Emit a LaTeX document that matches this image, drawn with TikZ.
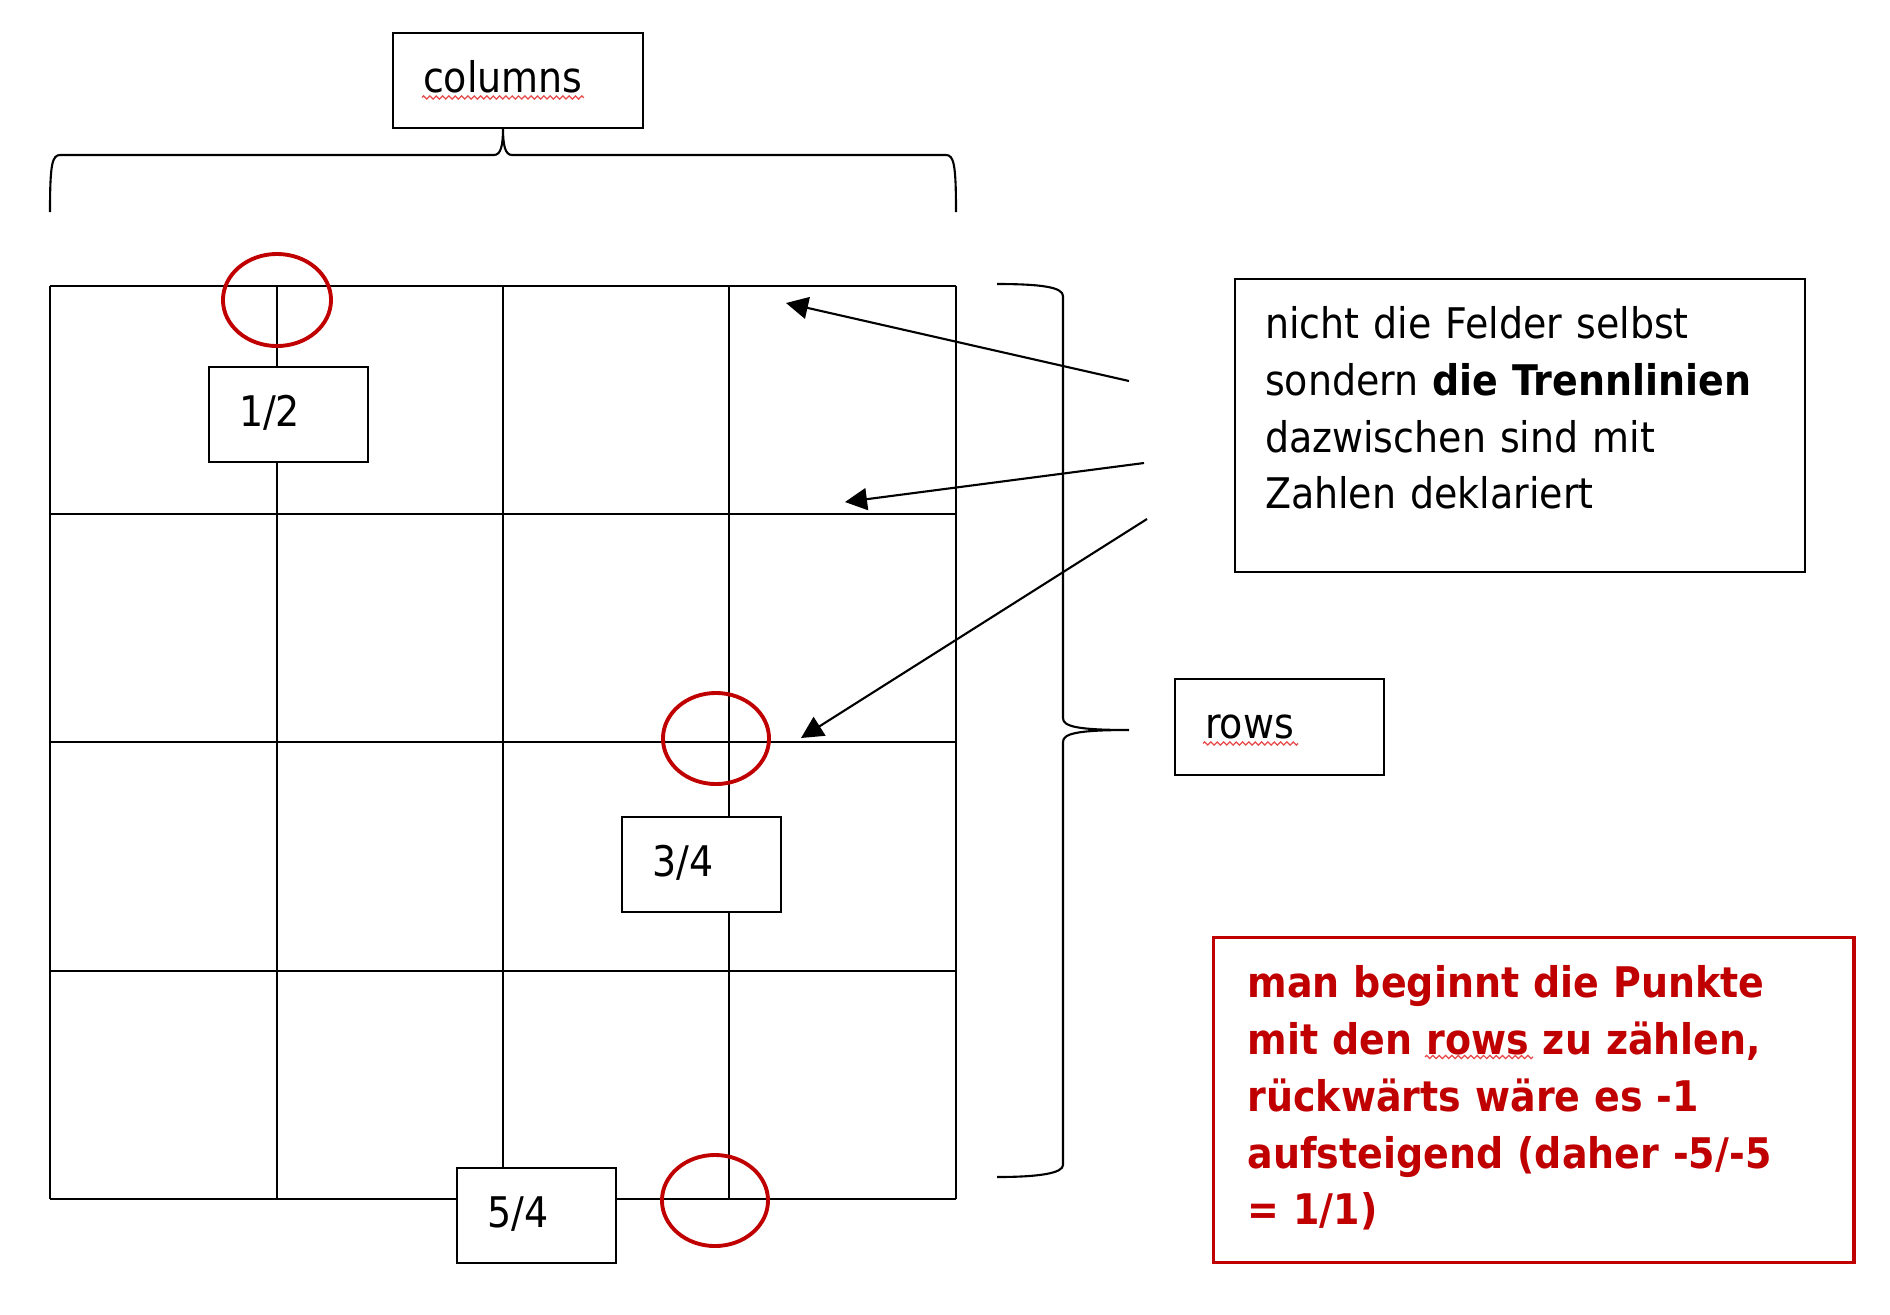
\documentclass[tikz,border=0pt]{standalone}
\usepackage{fontspec}
\setmainfont{DejaVu Sans Condensed}
\usetikzlibrary{arrows.meta,decorations.pathmorphing}
\definecolor{markred}{RGB}{192,0,0}
\definecolor{spellred}{RGB}{232,72,72}
\begin{document}
\begin{tikzpicture}[
  x=0.01cm, y=0.01cm,
  line width=0.6pt,
  every node/.style={font=\fontsize{12pt}{16.15pt}\selectfont},
  frame/.style={draw, fill=white, anchor=north west, align=left,
    inner xsep=0.3cm, inner ysep=0pt, text height=16.9pt},
  numbox/.style={frame, text width=0.99cm, text depth=10.2pt},
  ring/.style={draw=markred, line width=1.1pt},
  pointer/.style={-{Triangle[length=0.22cm,width=0.22cm]}},
  spell/.style={draw=spellred, line width=0.35pt, decorate,
    decoration={zigzag, amplitude=0.45pt, segment length=1.8pt}}
]
\useasboundingbox (0,0) rectangle (1890,-1314);

\foreach \x in {50,277,503,729,956}
  \draw (\x,-286) -- (\x,-1199);
\foreach \y in {286,514,742,971,1199}
  \draw (50,-\y) -- (956,-\y);

\draw (50,-212) .. controls (50,-165) and (52,-155) .. (60,-155) -- (494,-155)
  .. controls (501,-155) and (503,-145) .. (503,-128)
  .. controls (503,-145) and (505,-155) .. (512,-155) -- (946,-155)
  .. controls (954,-155) and (956,-165) .. (956,-212);
\draw (997,-284) .. controls (1040,-284) and (1063,-287) .. (1063,-296) -- (1063,-718)
  .. controls (1063,-726) and (1075,-730) .. (1129,-730)
  .. controls (1075,-730) and (1063,-734) .. (1063,-742) -- (1063,-1165)
  .. controls (1063,-1173) and (1040,-1177) .. (997,-1177);

\node[frame, text width=1.9cm, text depth=10.2pt] (colbox) at (392,-32) {columns};
\node[frame, text width=1.49cm, text depth=10.5pt] (rowbox) at (1174,-678) {rows};
\node[numbox] (half) at (208,-366) {1/2};
\node[numbox] (threeq) at (621,-816) {3/4};
\node[numbox] (fivefour) at (456,-1167) {5/4};

\draw[ring] (277,-300) ellipse [x radius=0.54cm, y radius=0.46cm];
\draw[ring] (716,-738.5) ellipse [x radius=0.53cm, y radius=0.455cm];
\draw[ring] (715,-1200.5) ellipse [x radius=0.53cm, y radius=0.455cm];

\node[frame, text width=5.1cm, text depth=66.3pt] (hint) at (1234,-278)
  {nicht die Felder selbst\\sondern \textbf{die Trennlinien}\\dazwischen sind mit\\Zahlen deklariert};
\node[frame, draw=markred, line width=0.9pt, text=markred, inner xsep=0.34cm,
  text width=5.72cm, text height=17.1pt, text depth=75.4pt,
  font=\fontsize{12pt}{16.15pt}\selectfont\bfseries] (note) at (1212,-936)
  {man beginnt die Punkte\\mit den rows zu zählen,\\rückwärts wäre es -1\\aufsteigend (daher -5/-5\\= 1/1)};

\draw[spell] ([shift={(30,-5)}]colbox.base west) -- ++(162,0);
\draw[spell] ([shift={(29,-5)}]rowbox.base west) -- ++(95,0);
\draw[spell] (1425,-1057) -- (1533,-1057);

\coordinate (from1) at (1129,-381);
\coordinate (to1) at (786,-303);
\coordinate (from2) at (1144,-463);
\coordinate (to2) at (845,-502);
\coordinate (from3) at (1147,-519);
\coordinate (to3) at (801,-738);
\draw[pointer] (from1) -- (to1);
\draw[pointer] (from2) -- (to2);
\draw[pointer] (from3) -- (to3);
\end{tikzpicture}
\end{document}
